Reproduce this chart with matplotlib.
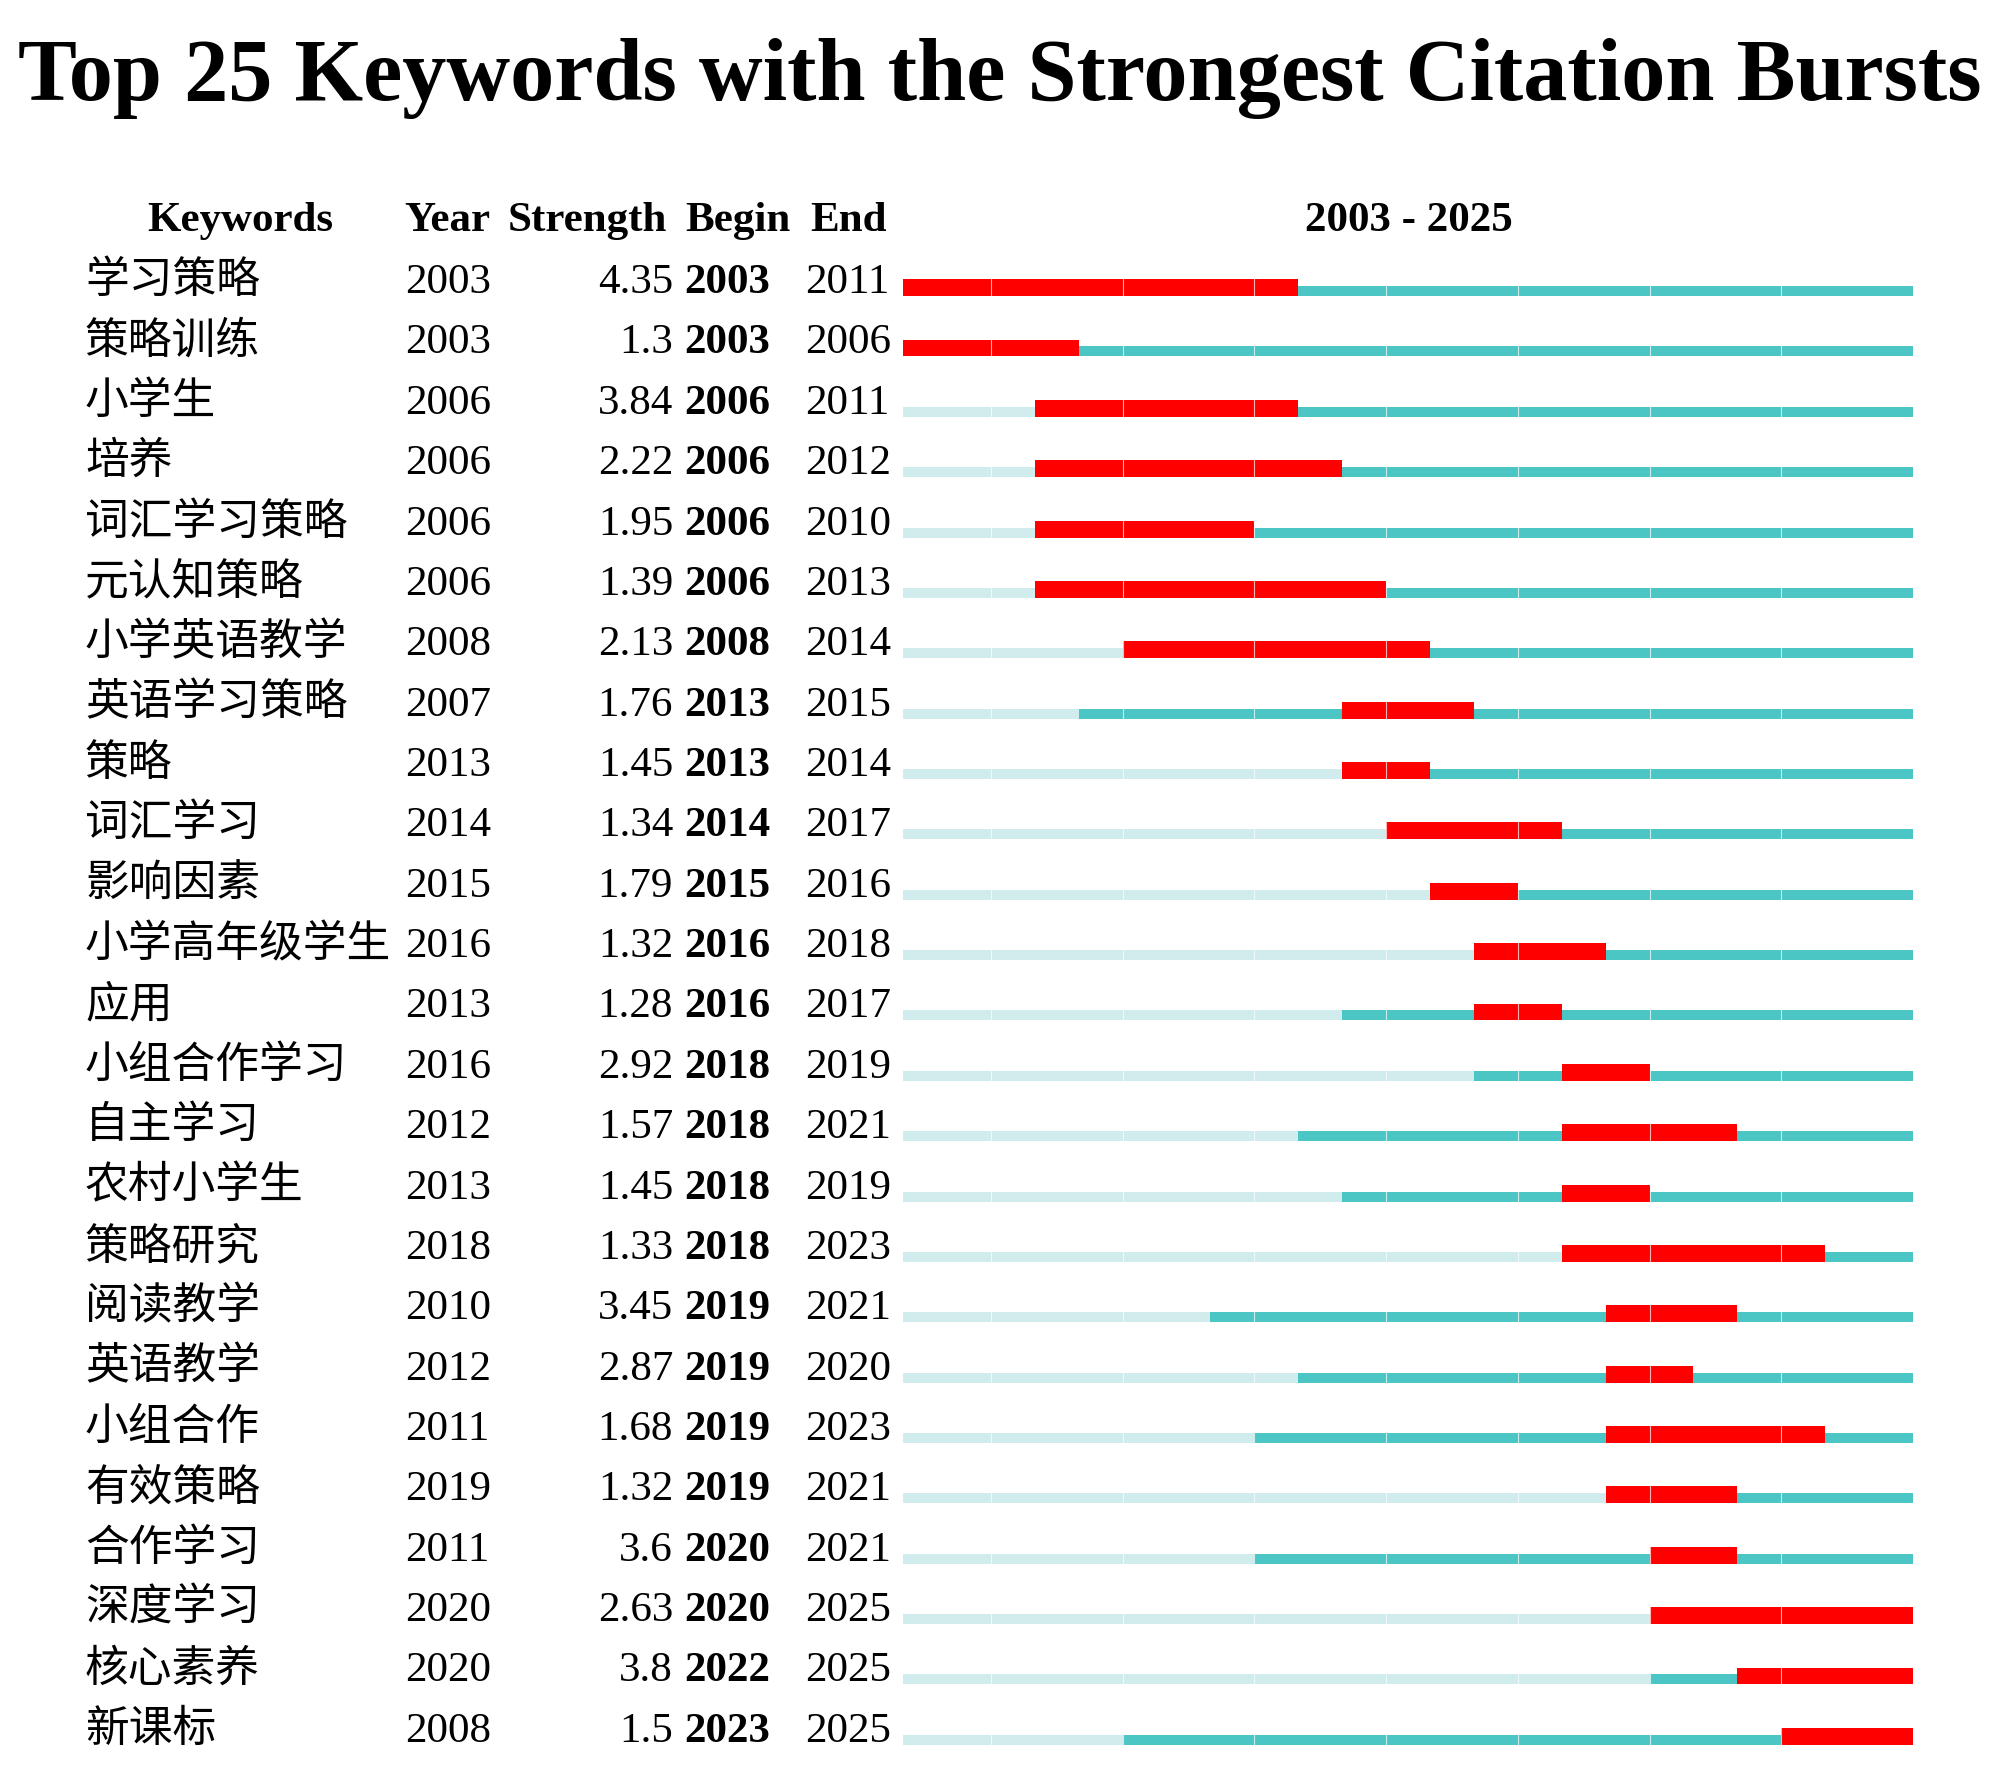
import matplotlib
matplotlib.use("Agg")
import matplotlib.pyplot as plt
from matplotlib.transforms import blended_transform_factory

# burst table (CiteSpace style)
keywords = ['学习策略', '策略训练', '小学生', '培养', '词汇学习策略', '元认知策略',
            '小学英语教学', '英语学习策略', '策略', '词汇学习', '影响因素', '小学高年级学生',
            '应用', '小组合作学习', '自主学习', '农村小学生', '策略研究', '阅读教学',
            '英语教学', '小组合作', '有效策略', '合作学习', '深度学习', '核心素养', '新课标']
first_year = [2003, 2003, 2006, 2006, 2006, 2006, 2008, 2007, 2013, 2014, 2015, 2016, 2013,
              2016, 2012, 2013, 2018, 2010, 2012, 2011, 2019, 2011, 2020, 2020, 2008]
strength = [4.35, 1.3, 3.84, 2.22, 1.95, 1.39, 2.13, 1.76, 1.45, 1.34, 1.79, 1.32, 1.28,
            2.92, 1.57, 1.45, 1.33, 3.45, 2.87, 1.68, 1.32, 3.6, 2.63, 3.8, 1.5]
begin = [2003, 2003, 2006, 2006, 2006, 2006, 2008, 2013, 2013, 2014, 2015, 2016, 2016,
         2018, 2018, 2018, 2018, 2019, 2019, 2019, 2019, 2020, 2020, 2022, 2023]
end = [2011, 2006, 2011, 2012, 2010, 2013, 2014, 2015, 2014, 2017, 2016, 2018, 2017,
       2019, 2021, 2019, 2023, 2021, 2020, 2023, 2021, 2021, 2025, 2025, 2025]
start_year, end_year = 2003, 2025

RED = '#FF0000'
TEAL = '#4CC5C5'
LIGHT = '#D0ECEC'
SERIF = ['Liberation Serif', 'DejaVu Serif']
CJK = ['Noto Sans CJK SC', 'DejaVu Sans']

fig = plt.figure(figsize=(20, 17.88), dpi=100)
ax = fig.add_axes([903 / 2000, 0.00727, (1913 - 903) / 2000, 0.8609])
ax.set_xlim(start_year, end_year + 1)
ax.set_ylim(24.5, -1)
ax.axis('off')

thin_h, thick_h = 0.165, 0.28
for i in range(len(keywords)):
    y = i
    # background: light before the keyword first appears, teal afterwards
    ax.barh(y - thin_h, first_year[i] - start_year, left=start_year, height=thin_h,
            align='edge', color=LIGHT, linewidth=0)
    ax.barh(y - thin_h, end_year + 1 - first_year[i], left=first_year[i], height=thin_h,
            align='edge', color=TEAL, linewidth=0)
    # burst
    ax.barh(y - thick_h, end[i] + 1 - begin[i], left=begin[i], height=thick_h,
            align='edge', color=RED, linewidth=0)

# faint segment seams
ax.vlines(range(2005, 2025, 3), -0.4, 24.1, colors='white', linewidth=0.8, alpha=0.7)

tr = blended_transform_factory(fig.transFigure, ax.transData)

def fx(px):
    return px / 2000

fs = 31
for i in range(len(keywords)):
    yb = i - 0.05
    ax.text(fx(85), yb, keywords[i], transform=tr, family=CJK, fontsize=31.5,
            va='baseline', ha='left')
    ax.text(fx(405), yb, str(first_year[i]), transform=tr, family=SERIF, fontsize=fs,
            va='baseline', ha='left')
    ax.text(fx(673), yb, str(strength[i]), transform=tr, family=SERIF, fontsize=fs,
            va='baseline', ha='right')
    ax.text(fx(684), yb, str(begin[i]), transform=tr, family=SERIF, fontsize=fs,
            fontweight='bold', va='baseline', ha='left')
    ax.text(fx(805), yb, str(end[i]), transform=tr, family=SERIF, fontsize=fs,
            va='baseline', ha='left')

hy = -1.07
hfs = 31
ax.text(fx(240), hy, 'Keywords', transform=tr, family=SERIF, fontsize=hfs,
        fontweight='bold', ha='center', va='baseline')
ax.text(fx(404), hy, 'Year', transform=tr, family=SERIF, fontsize=hfs,
        fontweight='bold', ha='left', va='baseline')
ax.text(fx(508), hy, 'Strength', transform=tr, family=SERIF, fontsize=hfs,
        fontweight='bold', ha='left', va='baseline')
ax.text(fx(685), hy, 'Begin', transform=tr, family=SERIF, fontsize=hfs,
        fontweight='bold', ha='left', va='baseline')
ax.text(fx(810), hy, 'End', transform=tr, family=SERIF, fontsize=hfs,
        fontweight='bold', ha='left', va='baseline')
ax.text(fx(1409), hy, f'{start_year} - {end_year}', transform=tr, family=SERIF,
        fontsize=hfs, fontweight='bold', ha='center', va='baseline')

fig.text(0.5, 1 - 100 / 1788, 'Top 25 Keywords with the Strongest Citation Bursts',
         family=SERIF, fontsize=63.5, fontweight='bold', ha='center', va='baseline')

fig.savefig('out.png', dpi=100, facecolor='white')
